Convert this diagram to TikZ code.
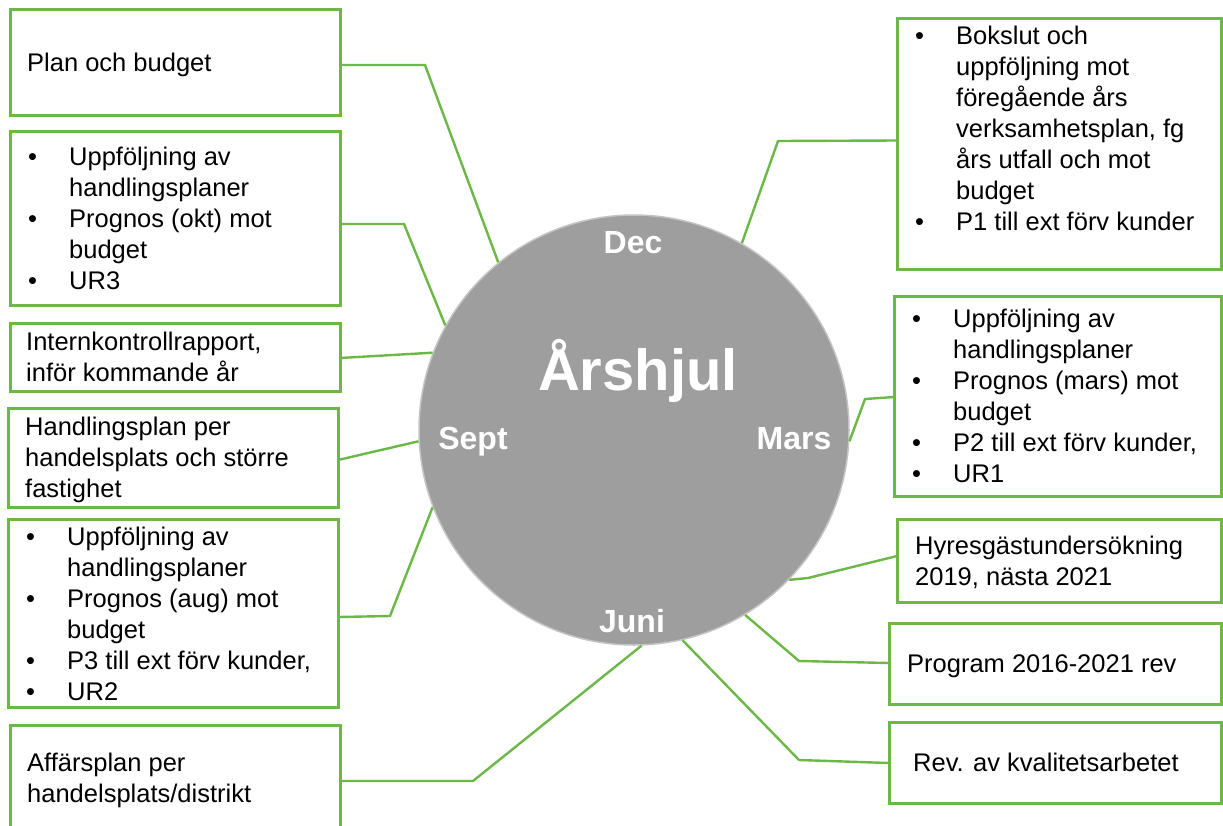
\documentclass[tikz,border=0pt]{standalone}
\usepackage{fontspec}
\setmainfont{Liberation Sans}
\usetikzlibrary{calc}
\definecolor{grn}{HTML}{6CB847}
\definecolor{wheel}{HTML}{9E9E9E}
\definecolor{wheelrim}{HTML}{C4C4C4}
\newcommand\bli[1]{\makebox[41pt][l]{•}#1\strut}
\newcommand\cli[1]{\hspace*{41pt}#1\strut}
\begin{document}
\begin{tikzpicture}[x=1pt,y=-1pt,
  box/.style={draw=grn, line width=3pt, rectangle, inner sep=0pt, outer sep=0pt},
  txt/.style={align=left, inner sep=0pt, anchor=west, font=\fontsize{25.5}{31}\selectfont},
  conn/.style={draw=grn, line width=2.4pt},
  month/.style={anchor=base, inner sep=0pt, text=white, font=\fontsize{32}{36}\selectfont\bfseries}]
\clip (0,0) rectangle (1223,825);
\fill[white] (0,0) rectangle (1223,825);

% wheel
\node[circle, minimum size=430pt, inner sep=0pt, fill=wheel, draw=wheelrim, line width=1.5pt] (c) at (634,430) {};
\node[anchor=base, inner sep=0pt, text=white, font=\fontsize{58}{64}\selectfont\bfseries] (title) at (638,390) {Årshjul};
\node[month] (dec) at (633,253) {Dec};
\node[month] (sept) at (473,449) {Sept};
\node[month] (mars) at (794,449) {Mars};
\node[month] (juni) at (632,632) {Juni};

% left boxes
\node[box, minimum width=330pt, minimum height=106pt] (b1) at (175,62) {};
\node[box, minimum width=330pt, minimum height=174pt] (b2) at (175,218) {};
\node[box, minimum width=330pt, minimum height=68pt] (b3) at (175,357) {};
\node[box, minimum width=330pt, minimum height=99pt] (b4) at (173,457.5) {};
\node[box, minimum width=330pt, minimum height=188pt] (b5) at (173,613) {};
\node[box, minimum width=330pt, minimum height=106pt] (b6) at (175,778) {};
% right boxes
\node[box, minimum width=324pt, minimum height=251pt] (b7) at (1059,143.5) {};
\node[box, minimum width=327pt, minimum height=200pt] (b8) at (1057.5,396) {};
\node[box, minimum width=324pt, minimum height=83pt] (b9) at (1059,560.5) {};
\node[box, minimum width=332pt, minimum height=81pt] (b10) at (1055,663.5) {};
\node[box, minimum width=332pt, minimum height=81pt] (b11) at (1055,762.5) {};

% texts
\node[txt] (t1) at ($(b1.west)+(17,3)$) {Plan och budget\strut};
\node[txt] (t2) at ($(b2.west)+(18,3.5)$) {\bli{Uppföljning av}\\ \cli{handlingsplaner}\\ \bli{Prognos (okt) mot}\\ \cli{budget}\\ \bli{UR3}};
\node[txt] (t3) at ($(b3.west)+(16,3)$) {Internkontrollrapport,\strut\\ inför kommande år\strut};
\node[txt] (t4) at ($(b4.west)+(17,3)$) {Handlingsplan per\strut\\ handelsplats och större\strut\\ fastighet\strut};
\node[txt] (t5) at ($(b5.west)+(18,3.5)$) {\bli{Uppföljning av}\\ \cli{handlingsplaner}\\ \bli{Prognos (aug) mot}\\ \cli{budget}\\ \bli{P3 till ext förv kunder,}\\ \bli{UR2}};
\node[txt] (t6) at ($(b6.west)+(17,3)$) {Affärsplan per\strut\\ handelsplats/distrikt\strut};
\node[txt, anchor=north west] (t7) at ($(b7.north west)+(18,5)$) {\bli{Bokslut och}\\ \cli{uppföljning mot}\\ \cli{föregående års}\\ \cli{verksamhetsplan, fg}\\ \cli{års utfall och mot}\\ \cli{budget}\\ \bli{P1 till ext förv kunder}};
\node[txt] (t8) at ($(b8.west)+(18,3)$) {\bli{Uppföljning av}\\ \cli{handlingsplaner}\\ \bli{Prognos (mars) mot}\\ \cli{budget}\\ \bli{P2 till ext förv kunder,}\\ \bli{UR1}};
\node[txt] (t9) at ($(b9.west)+(18,3)$) {Hyresgästundersökning\strut\\ 2019, nästa 2021\strut};
\node[txt] (t10) at ($(b10.west)+(18,3)$) {Program 2016-2021 rev\strut};
\node[txt] (t11) at ($(b11.west)+(24,3)$) {Rev. av kvalitetsarbetet\strut};

% connectors
\draw[conn] ($(b1.east)+(0,3)$) -- (425,65) -- (c.129.2);
\draw[conn] ($(b2.east)+(0,6)$) -- (404,224) -- (c.151.7);
\draw[conn] ($(b3.east)+(0,1)$) -- (c.159.9);
\draw[conn] ($(b4.east)+(0,2.5)$) -- (c.183.4);
\draw[conn] ($(b5.east)+(0,4)$) -- (390,616) -- (c.201.8);
\draw[conn] ($(b6.east)+(0,3)$) -- (473,781) -- (c.272);
\draw[conn] ($(b7.west)+(0,-3)$) -- (778,141) -- (c.60.4);
\draw[conn] ($(b8.west)+(0,1)$) -- (865,399) -- (c.357.3);
\draw[conn] ($(b9.west)+(0,-4.5)$) -- (808,578) -- (c.316.1);
\draw[conn] ($(b10.west)+(0,-0.5)$) -- (799,661) -- (c.301.7);
\draw[conn] ($(b11.west)+(0,0.5)$) -- (799,760) -- (c.283.3);
\end{tikzpicture}
\end{document}
